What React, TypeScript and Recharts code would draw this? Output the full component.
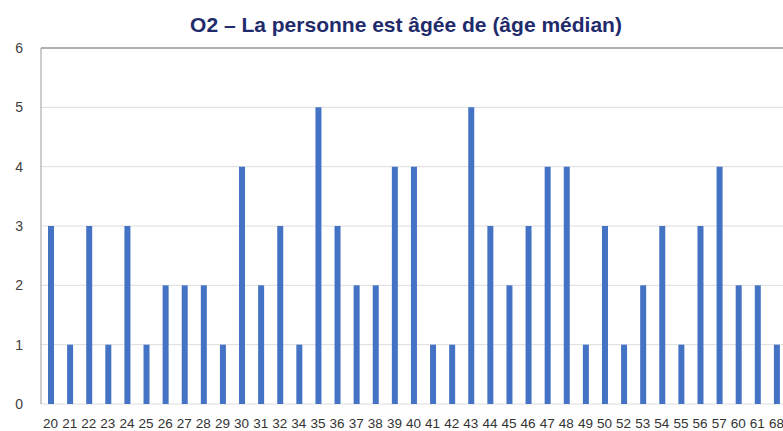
import { Bar, BarChart, CartesianGrid, ReferenceLine, XAxis, YAxis } from "recharts";

const ages = [
  "20", "21", "22", "23", "24", "25", "26", "27", "28", "29",
  "30", "31", "32", "34", "35", "36", "37", "38", "39", "40",
  "41", "42", "43", "44", "45", "46", "47", "48", "49", "50",
  "52", "53", "54", "55", "56", "57", "60", "61", "68",
];

const counts = [
  3, 1, 3, 1, 3, 1, 2, 2, 2, 1,
  4, 2, 3, 1, 5, 3, 2, 2, 4, 4,
  1, 1, 5, 3, 2, 3, 4, 4, 1, 3,
  1, 2, 3, 1, 3, 4, 2, 2, 1,
];

const yTicks = [0, 1, 2, 3, 4, 5, 6];

const title = "O2 – La personne est âgée de (âge médian)";

const data = ages.map((age, i) => ({ age, count: counts[i] }));

export default function App() {
  return (
    <div
      style={{
        position: "absolute",
        left: 0,
        top: 0,
        width: 783,
        height: 431,
        overflow: "hidden",
        background: "#ffffff",
        fontFamily: "'Liberation Sans', Arial, sans-serif",
      }}
    >
      <div
        style={{
          position: "absolute",
          left: 0,
          top: 13,
          width: 812,
          textAlign: "center",
          fontSize: 21,
          fontWeight: 700,
          color: "#1f2b6b",
        }}
      >
        {title}
      </div>
      <BarChart
        width={786}
        height={431}
        data={data}
        margin={{ top: 48, right: 0, bottom: 0, left: 0 }}
        barCategoryGap={0}
      >
        <CartesianGrid stroke="#dcdcdc" vertical={false} />
        <XAxis
          dataKey="age"
          interval={0}
          axisLine={false}
          tickLine={false}
          tickSize={0}
          tickMargin={14}
          height={27}
          tick={{ fill: "#333333", fontSize: 13.5 }}
        />
        <YAxis
          domain={[0, 6]}
          ticks={yTicks}
          width={41}
          axisLine={{ stroke: "#9a9a9a" }}
          tickLine={false}
          tickSize={0}
          tickMargin={18}
          tick={{ fill: "#404040", fontSize: 14 }}
        />
        <ReferenceLine y={6} stroke="#9a9a9a" strokeWidth={1.5} />
        <Bar dataKey="count" fill="#4472c4" barSize={6} isAnimationActive={false} />
      </BarChart>
    </div>
  );
}
